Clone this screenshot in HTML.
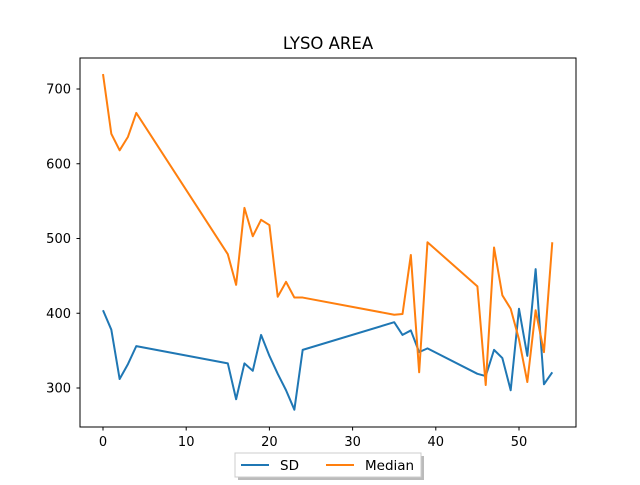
<!DOCTYPE html>
<html><head><meta charset="utf-8"><style>
body{margin:0;background:#fff;}
svg text{font-family:"DejaVu Sans","Liberation Sans",sans-serif;}
</style></head><body>
<svg id="chart" width="640" height="480" xmlns="http://www.w3.org/2000/svg">
<rect width="640" height="480" fill="#fff"/>
<text x="328" y="49" text-anchor="middle" font-size="16.5">LYSO AREA</text>
<g id="ticks"></g>
<g id="lines"></g>
<rect x="80" y="58" width="496" height="369" fill="none" stroke="#000" stroke-width="1"/>
<g>
<rect x="238" y="456" width="186" height="24" fill="#777" opacity="0.5"/>
<rect x="235" y="453" width="186" height="24" fill="#fff" stroke="#ccc"/>
<line x1="241" y1="465" x2="269" y2="465" stroke="#1f77b4" stroke-width="2"/>
<text x="280" y="470" font-size="13.5">SD</text>
<line x1="326" y1="465" x2="354" y2="465" stroke="#ff7f0e" stroke-width="2"/>
<text x="365" y="470" font-size="13.5">Median</text>
</g>
</svg>
<script>
const xs=[0,1,2,3,4,15,16,17,18,19,20,21,22,23,24,35,36,37,38,39,45,46,47,48,49,50,51,52,53,54];
const sd=[404,378,312,332,356,333,285,333,323,371,343,319,297,271,351,388,371,377,348,353,319,316,351,340,297,406,343,459,305,321];
const median=[720,640,618,636,668,479,438,541,503,525,518,422,442,421,421,398,399,478,321,495,436,304,488,424,406,365,308,404,348,495];
const xTicks=[0,10,20,30,40,50];
const yTicks=[300,400,500,600,700];
const NS="http://www.w3.org/2000/svg";
function X(v){return 103+(v-0)*(519-103)/50;}
function Y(v){return 388-(v-300)*(388-89)/400;}
const tg=document.getElementById('ticks');
function mk(t,a){const e=document.createElementNS(NS,t);for(const k in a)e.setAttribute(k,a[k]);return e;}
xTicks.forEach(t=>{
 const l=mk('line',{x1:X(t),x2:X(t),y1:427,y2:430.5,stroke:'#000'});
 
 
 tg.appendChild(l);
 const s=mk('text',{x:X(t),y:446,'text-anchor':'middle','font-size':'13'});s.textContent=t;
 
 
 tg.appendChild(s);
});
yTicks.forEach(t=>{
 const l=mk('line',{x1:76.5,x2:80,y1:Y(t),y2:Y(t),stroke:'#000'});
 
 
 tg.appendChild(l);
 const s=mk('text',{x:71,y:Y(t)+4.5,'text-anchor':'end','font-size':'13'});s.textContent=t;
 
 
 tg.appendChild(s);
});
const lg=document.getElementById('lines');
function series(vals,color,name){
 const p=mk('polyline',{points:xs.map((x,i)=>X(x)+','+Y(vals[i])).join(' '),fill:'none',stroke:color,'stroke-width':2,'stroke-linejoin':'round'});
 
 
 lg.appendChild(p);
}
series(sd,'#1f77b4','sd-line');
series(median,'#ff7f0e','median-line');
</script>
</body></html>
